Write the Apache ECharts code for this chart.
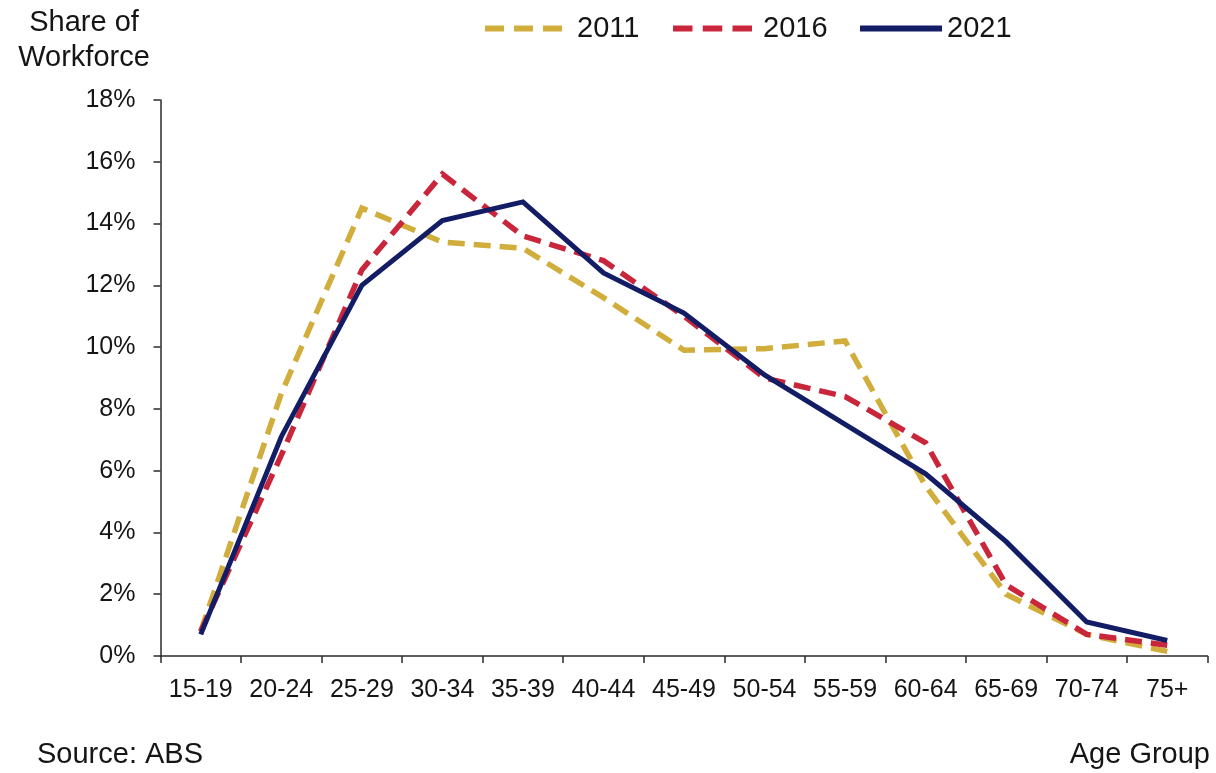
<!DOCTYPE html>
<html>
<head>
<meta charset="utf-8">
<title>Share of Workforce by Age Group</title>
<script src="https://cdn.jsdelivr.net/npm/echarts@6/dist/echarts.min.js"></script>
<style>
  html, body { margin: 0; padding: 0; background: #ffffff; }
  #chart { width: 1216px; height: 773px; }
</style>
</head>
<body>
<div id="chart"></div>
<script>
// Age groups along the horizontal axis
const ageGroups = ['15-19', '20-24', '25-29', '30-34', '35-39', '40-44', '45-49',
                   '50-54', '55-59', '60-64', '65-69', '70-74', '75+'];

// Share of workforce (%) in each age group, by census year
const share2011 = [0.8, 8.5, 14.5, 13.4, 13.2, 11.6, 9.9, 9.95, 10.2, 5.5, 2.0, 0.7, 0.15];
const share2016 = [0.8, 6.5, 12.5, 15.6, 13.6, 12.8, 11.0, 9.0, 8.4, 6.9, 2.3, 0.7, 0.35];
const share2021 = [0.7, 7.1, 12.0, 14.1, 14.7, 12.4, 11.1, 9.1, 7.5, 5.9, 3.7, 1.1, 0.5];

const years = ['2011', '2016', '2021'];

const FONT = "'Liberation Sans', Arial, sans-serif";
const TEXT = '#151515';
const AXIS = '#2b2b2b';

const COLORS = ['#d1ad3c', '#c9263c', '#131d66'];

// Legend key shapes: three short dashes for the dashed lines, a bar for the solid one
const DASH_ICON = 'path://M0,0h19v6h-19z M29,0h19v6h-19z M58,0h19v6h-19z';
const SOLID_ICON = 'path://M0,0h82v6h-82z';

const chart = echarts.init(document.getElementById('chart'), null, { renderer: 'canvas' });

function lineSeries(name, data, color, dashed) {
  return {
    name: name,
    type: 'line',
    data: data,
    symbol: 'none',
    smooth: false,
    lineStyle: {
      color: color,
      width: dashed ? 5.5 : 5,
      type: dashed ? [17, 9] : 'solid',
      cap: 'butt',
      join: 'miter'
    },
    itemStyle: { color: color },
    emphasis: { disabled: true },
    animation: false
  };
}

function legendFor(name, color, icon, left, width, gap) {
  return {
    data: [{ name: name, icon: icon }],
    left: left,
    top: 9,
    itemWidth: width,
    itemHeight: 6,
    symbolKeepAspect: false,
    itemStyle: { color: color, borderWidth: 0 },
    textStyle: { fontFamily: FONT, fontSize: 29, color: TEXT, padding: [0, 0, 0, gap] },
    selectedMode: false
  };
}

chart.setOption({
  backgroundColor: '#ffffff',
  animation: false,
  grid: { left: 160.5, right: 8.5, top: 100, bottom: 117, containLabel: false },
  legend: [
    legendFor(years[0], COLORS[0], DASH_ICON, 480, 77, 10),
    legendFor(years[1], COLORS[1], DASH_ICON, 668, 79, 6),
    legendFor(years[2], COLORS[2], SOLID_ICON, 855, 82, 0)
  ],
  xAxis: {
    type: 'category',
    data: ageGroups,
    boundaryGap: true,
    axisLine: { show: true, lineStyle: { color: AXIS, width: 1.5 } },
    axisTick: { show: true, length: 7, inside: false, alignWithLabel: false,
                lineStyle: { color: AXIS, width: 1.5 } },
    axisLabel: { fontFamily: FONT, fontSize: 25, color: TEXT, margin: 22, interval: 0 },
    splitLine: { show: false }
  },
  yAxis: {
    type: 'value',
    min: 0,
    max: 18,
    interval: 2,
    axisLine: { show: true, lineStyle: { color: AXIS, width: 1.5 } },
    axisTick: { show: true, length: 7, inside: false, lineStyle: { color: AXIS, width: 1.5 } },
    axisLabel: { fontFamily: FONT, fontSize: 25, color: TEXT, margin: 25,
                 formatter: '{value}%' },
    splitLine: { show: false }
  },
  graphic: [
    { type: 'text', x: 84, y: 5,
      style: { text: 'Share of\nWorkforce', font: '29px ' + FONT, fill: TEXT,
               align: 'center', lineHeight: 35 } },
    { type: 'text', left: 37, top: 740,
      style: { text: 'Source: ABS', font: '29px ' + FONT, fill: TEXT } },
    { type: 'text', right: 6, top: 740,
      style: { text: 'Age Group', font: '29px ' + FONT, fill: TEXT } }
  ],
  series: [
    lineSeries(years[0], share2011, COLORS[0], true),
    lineSeries(years[1], share2016, COLORS[1], true),
    lineSeries(years[2], share2021, COLORS[2], false)
  ]
});
</script>
</body>
</html>
